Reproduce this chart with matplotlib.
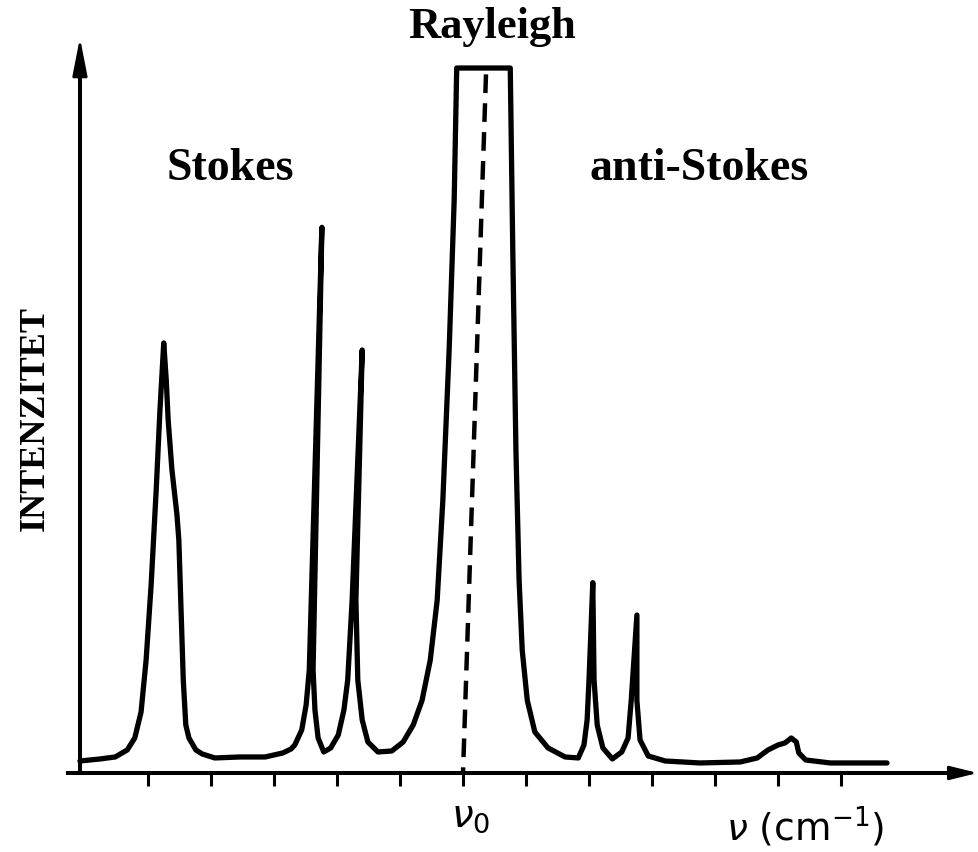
import matplotlib
matplotlib.use("Agg")
import matplotlib.pyplot as plt
from matplotlib.transforms import ScaledTranslation

# spectrum trace
# x: wavenumber in tick units (nu0 = 0), y: intensity, clipped Rayleigh top = 100
NU = [-6.08, -5.76, -5.52, -5.33, -5.21, -5.11, -5.03, -4.95, -4.87, -4.81,
      -4.75, -4.71, -4.68, -4.62, -4.54, -4.51, -4.48, -4.44, -4.40, -4.35,
      -4.24, -4.14, -3.94, -3.54, -3.14, -2.86, -2.73, -2.67, -2.56, -2.49,
      -2.44, -2.24, -2.38, -2.35, -2.30, -2.21, -2.10, -1.98, -1.89, -1.83,
      -1.76, -1.60, -1.70, -1.67, -1.60, -1.51, -1.35, -1.13, -0.95, -0.79,
      -0.65, -0.52, -0.41, -0.32, -0.22, -0.14, -0.10, 0.75, 0.79, 0.84,
      0.89, 0.94, 1.02, 1.14, 1.35, 1.62, 1.83, 1.92, 1.97, 2.00,
      2.06, 2.08, 2.13, 2.22, 2.37, 2.52, 2.62, 2.67, 2.76, 2.76,
      2.81, 2.94, 3.21, 3.76, 4.40, 4.67, 4.84, 5.00, 5.11, 5.21,
      5.29, 5.33, 5.44, 5.83, 6.73]
INT = [1.70, 1.99, 2.27, 3.26, 4.96, 8.65, 16.0, 26.7, 40.1, 51.5,
       61.0, 55.7, 50.1, 43.0, 36.6, 33.0, 24.5, 13.2, 6.81, 4.96,
       3.26, 2.70, 2.13, 2.27, 2.27, 2.84, 3.40, 3.97, 6.10, 9.65,
       14.6, 77.4, 14.6, 8.94, 4.96, 2.98, 3.55, 5.39, 8.94, 13.2,
       24.5, 60.0, 24.5, 13.2, 7.52, 4.40, 2.98, 3.12, 4.40, 6.81,
       10.3, 16.0, 24.5, 38.7, 60.0, 81.3, 100.0, 100.0, 74.2, 45.8,
       27.4, 17.4, 10.3, 5.82, 3.55, 2.27, 2.13, 3.97, 7.52, 13.2,
       27.0, 13.2, 6.81, 3.55, 1.99, 2.98, 4.96, 10.3, 22.4, 10.3,
       4.68, 2.41, 1.70, 1.42, 1.56, 2.13, 3.26, 3.97, 4.26, 4.96,
       4.40, 2.84, 1.84, 1.42, 1.42]
TICKS = list(range(-5, 7))
NU0_LINE_X = [0.365, 0.0]
NU0_LINE_Y = [99.1, 0.0]

plt.rcParams["mathtext.fontset"] = "dejavusans"
SERIF = "Liberation Serif"

fig = plt.figure(figsize=(9.79, 8.52), dpi=100)
ax = fig.add_axes([0, 0, 1, 1])
ax.set_xlim(-7.349, 8.190)
ax.set_ylim(-11.21, 109.65)
ax.patch.set_alpha(0)

ax.plot(NU, INT, color="black", lw=3.8, solid_joinstyle="round",
        solid_capstyle="round", clip_on=False)
ax.plot(NU0_LINE_X, NU0_LINE_Y, color="black", lw=3.2, ls=(0, (4.2, 2.3)))

# axes as arrows
for s in ("top", "right"):
    ax.spines[s].set_visible(False)
ax.spines["bottom"].set_position(("data", 0))
ax.spines["left"].set_position(("data", -6.08))
ax.spines["bottom"].set_bounds(-6.27, 7.9)
ax.spines["left"].set_bounds(0, 100)
for s in ("bottom", "left"):
    ax.spines[s].set_linewidth(2.9)
ax.annotate("", xy=(8.17, 0), xytext=(7.6, 0), annotation_clip=False,
            arrowprops=dict(arrowstyle="-|>,head_length=1.7,head_width=0.42",
                            color="black", lw=2.0, shrinkA=0, shrinkB=0))
ax.annotate("", xy=(-6.08, 104.3), xytext=(-6.08, 98), annotation_clip=False,
            arrowprops=dict(arrowstyle="-|>,head_length=2.3,head_width=0.45",
                            color="black", lw=2.0, shrinkA=0, shrinkB=0))

ax.set_xticks(TICKS)
ax.set_xticklabels([r"$\nu_0$" if t == 0 else "" for t in TICKS])
ax.tick_params(axis="x", direction="out", length=9, width=2.2, pad=8,
               labelsize=28)
shift = ScaledTranslation(8 / 100, 0, fig.dpi_scale_trans)
for lab in ax.get_xticklabels():
    lab.set_transform(lab.get_transform() + shift)
ax.set_yticks([])

ax.set_xlabel(r"$\nu$ (cm$^{-1}$)", fontsize=27, family="DejaVu Sans",
              va="center")
ax.xaxis.set_label_coords(0.822, 0.03)
ax.set_ylabel("INTENZITET", fontsize=26, fontweight="bold", family=SERIF,
              va="center")
ax.yaxis.set_label_coords(0.0358, 0.509)

ax.text(0.46, 104.26, "Rayleigh", ha="center", va="baseline", fontsize=32,
        fontweight="bold", family=SERIF)
ax.text(-3.70, 84.1, "Stokes", ha="center", va="baseline", fontsize=33,
        fontweight="bold", family=SERIF)
ax.text(3.75, 84.1, "anti-Stokes", ha="center", va="baseline", fontsize=33,
        fontweight="bold", family=SERIF)

fig.savefig("out.png", dpi=100, facecolor="white")
